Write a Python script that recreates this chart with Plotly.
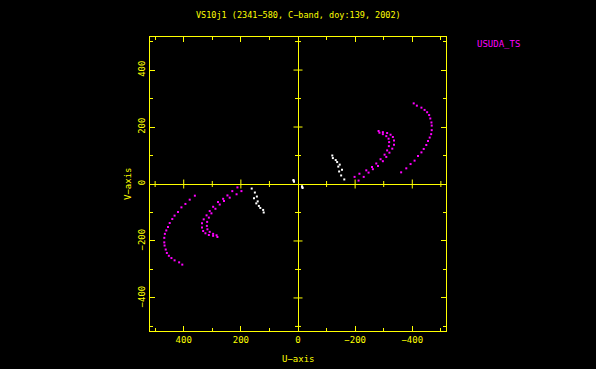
import plotly.graph_objects as go

# ---------------- data (u, v in kilo-wavelengths; one half, conjugates added below)
# USUDA_TS baselines (magenta)
outer_u = [361, 379, 394, 408, 420, 432, 440, 449, 455, 461, 466, 468, 468, 467, 463, 459, 452, 443, 432, 416, 405]
outer_v = [-41, -55, -70, -82, -98, -111, -123, -137, -151, -163, -175, -189, -205, -216, -230, -242, -252, -260, -268, -275, -283]

arcA_u = [212, 230, 247, 262, 280, 297, 309, 320, 330, 336, 336, 332, 324, 312, 297, 282]
arcA_v = [-12, -25, -40, -52, -63, -80, -95, -110, -124, -138, -153, -165, -173, -179, -182, -186]

arcB_u = [198, 215, 239, 259, 274, 289, 303, 312, 318, 319, 317, 309, 297, 285]
arcB_v = [-25, -36, -48, -60, -72, -87, -103, -118, -133, -147, -159, -168, -175, -180]

# other baselines (white)
white_u = [162, 151, 154, 144, 141, 146, 137, 132, 122, 120, 16, 15, 14]
white_v = [-16, -30, -50, -44, -61, -68, -77, -84, -91, -100, 14, 11, 8]

x_ticks = [400, 200, 0, -200, -400]
x_ticktext = ["400", "200", "0", "\u2212200", "\u2212400"]
y_ticks = [-400, -200, 0, 200, 400]
y_ticktext = ["\u2212400", "\u2212200", "0", "200", "400"]
minor_ticks = [-500, -300, -100, 100, 300, 500]

title_text = "VS10j1 (2341\u2212580, C\u2212band, doy:139, 2002)"
legend_text = "USUDA_TS"
xlabel = "U\u2212axis"
ylabel = "V\u2212axis"

YEL = "#ffff00"
MAG = "#ff00ff"
FONT = "DejaVu Sans Mono"

# conjugate points (UV coverage is Hermitian symmetric)
mag_u = outer_u + arcA_u + arcB_u
mag_v = outer_v + arcA_v + arcB_v
mag_u_all = mag_u + [-a for a in mag_u]
mag_v_all = mag_v + [-a for a in mag_v]
wu_all = white_u + [-a for a in white_u]
wv_all = white_v + [-a for a in white_v]

fig = go.Figure()
fig.add_trace(go.Scatter(x=wu_all, y=wv_all, mode="markers",
                         marker=dict(symbol="square", size=2, color="#ffffff", line=dict(width=0)),
                         showlegend=False, hoverinfo="skip"))
fig.add_trace(go.Scatter(x=mag_u_all, y=mag_v_all, mode="markers",
                         marker=dict(symbol="square", size=2, color=MAG, line=dict(width=0)),
                         showlegend=False, hoverinfo="skip"))

# crossing ticks on the zero lines
shapes = []
all_ticks = [t for t in sorted(set(x_ticks + minor_ticks)) if t != 0]
for t in all_ticks:
    L = 4.5 if t % 200 == 0 else 3
    shapes.append(dict(type="line", xref="x", yref="y", x0=t, x1=t,
                       ysizemode="pixel", yanchor=0, y0=-L, y1=L,
                       line=dict(color=YEL, width=1)))
    shapes.append(dict(type="line", yref="y", xref="x", y0=t, y1=t,
                       xsizemode="pixel", xanchor=0, x0=-L, x1=L,
                       line=dict(color=YEL, width=1)))

axis_common = dict(showline=True, linecolor=YEL, linewidth=1, mirror="ticks",
                   ticks="inside", ticklen=5, tickwidth=1, tickcolor=YEL,
                   showgrid=False, zeroline=True, zerolinecolor=YEL, zerolinewidth=1,
                   tickfont=dict(family=FONT, size=9, color=YEL),
                   minor=dict(tickvals=minor_ticks, ticks="inside", ticklen=3,
                              tickcolor=YEL, tickwidth=1, showgrid=False))

fig.update_layout(
    width=596, height=369,
    margin=dict(l=150, r=150, t=37, b=38, pad=0),
    paper_bgcolor="#000000", plot_bgcolor="#000000",
    xaxis=dict(range=[518, -518], tickmode="array", tickvals=x_ticks, ticktext=x_ticktext,
               **axis_common),
    yaxis=dict(range=[-516, 516], tickmode="array", tickvals=y_ticks, ticktext=y_ticktext,
               tickangle=-90, **axis_common),
    shapes=shapes,
    annotations=[
        dict(text=title_text, xref="paper", yref="paper", x=0.5, y=(331 - 15) / 294,
             xanchor="center", yanchor="middle", showarrow=False,
             font=dict(family=FONT, size=8.5, color=YEL)),
        dict(text=legend_text, xref="paper", yref="paper", x=(475 - 150) / 296, y=(331 - 44) / 294,
             xanchor="left", yanchor="middle", showarrow=False,
             font=dict(family=FONT, size=9, color=MAG)),
        dict(text=xlabel, xref="paper", yref="paper", x=0.5, y=(331 - 359) / 294,
             xanchor="center", yanchor="middle", showarrow=False,
             font=dict(family=FONT, size=9, color=YEL)),
        dict(text=ylabel, xref="paper", yref="paper", x=(128 - 150) / 296, y=0.5,
             xanchor="center", yanchor="middle", showarrow=False, textangle=-90,
             font=dict(family=FONT, size=9, color=YEL)),
    ],
)

fig.write_html("out.html", config={"displayModeBar": False},
               post_script="document.body.style.margin='0';document.body.style.background='#000';"
                           "document.documentElement.style.overflow='hidden';")
